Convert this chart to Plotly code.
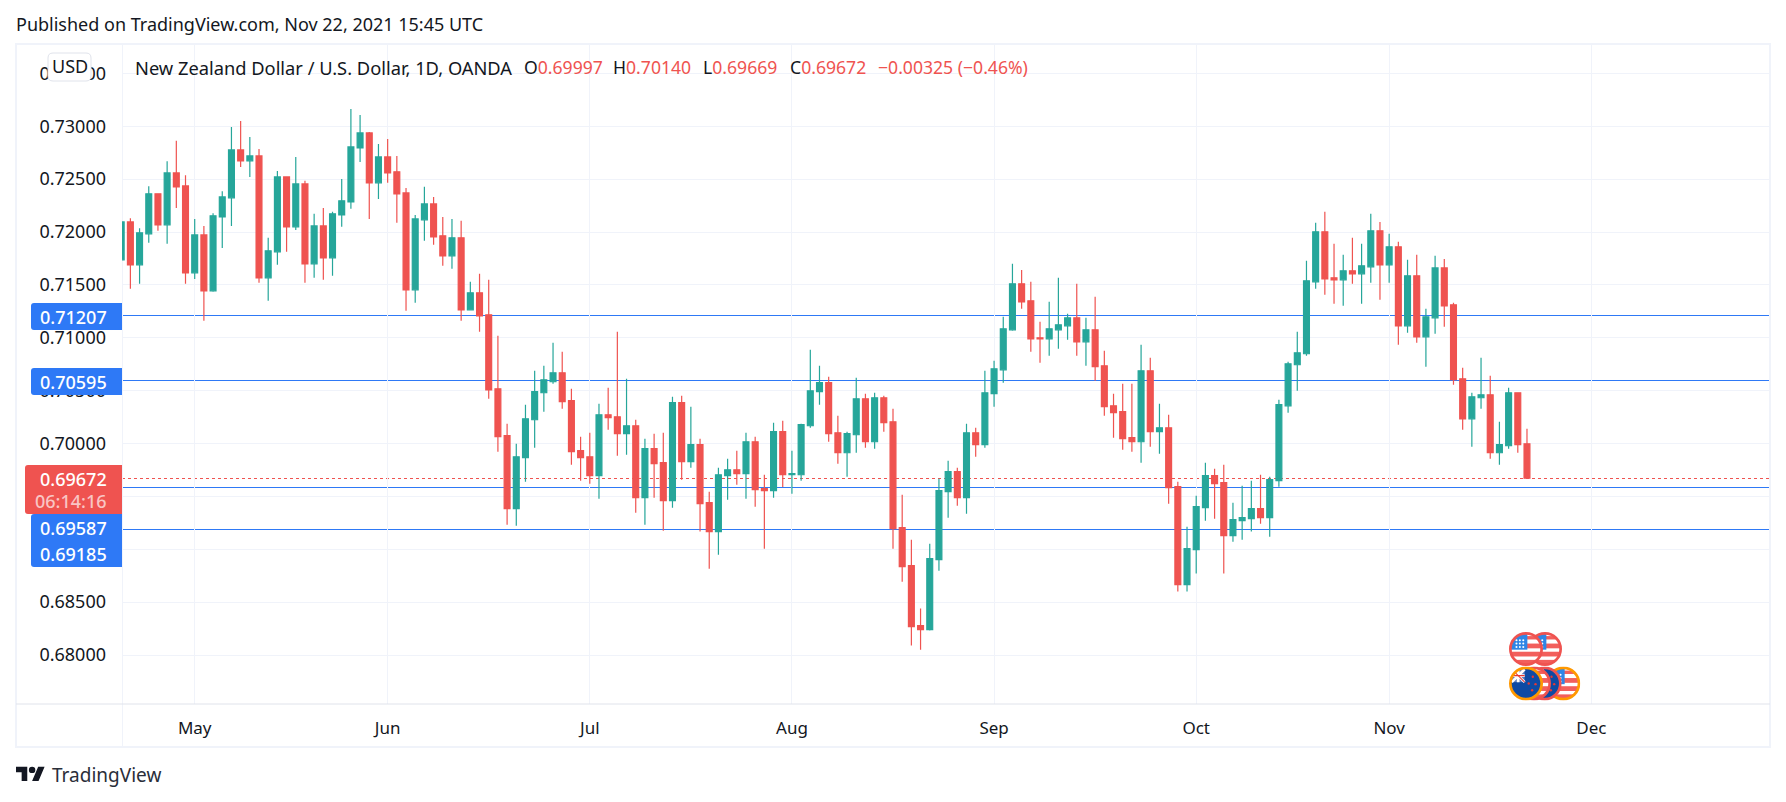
import base64
import pandas as pd
import plotly.graph_objects as go

# ---------- data ----------
first_day = "2021-04-21"
opens = [.71737,.72096,.71690,.71983,.72361,.72068,.72559,.72436,
.71614,.71973,.71444,.72143,.72323,.72776,.72673,.72720,.71567,.71813,
.72521,.72049,.72455,.71699,.72058,.71756,.72162,.72285,.72795,.72937,
.72465,.72710,.72569,.72370,.71453,.72115,.72266,.71964,.71775,.71945,
.71264,.71425,.71217,.70518,.70074,.69384,.69866,.70225,.70480,.70584,
.70669,.70405,.69932,.69875,.69696,.70272,.70253,.70093,.70168,.69488,
.69951,.69819,.69460,.70386,.69828,.69989,.69441,.69167,.69696,.69752,
.69715,.70017,.69573,.69554,.70112,.69705,.69705,.70168,.70490,.70575,
.70102,.69913,.70083,.70423,.70017,.70433,.70206,.69204,.68845,.68278,
.68240,.68902,.69545,.69734,.69488,.70102,.69989,.70471,.70697,.71075,
.71510,.71350,.71000,.70990,.71075,.71113,.71189,.70962,.71075,.70735,
.70357,.70301,.70055,.70017,.70688,.70112,.70149,.69592,.68666,.68996,
.69393,.69696,.69630,.69129,.69271,.69289,.69384,.69299,.69649,.70357,
.70745,.70849,.71529,.72002,.71567,.71548,.71633,.71605,.71671,.72011,
.71690,.71860,.71113,.71586,.71009,.71189,.71661,.71312,.70612,.70234,
.70433,.70461,.69913,.69979,.70480,.69997]
highs = [.72096,.72131,.72036,.72433,.72367,.72669,.72862,.72537,
.72124,.72058,.72178,.72386,.72994,.73051,.72899,.72786,.71945,.72578,
.72521,.72710,.72484,.72172,.72228,.72191,.72502,.73164,.73107,.72947,
.72833,.72880,.72720,.72417,.72162,.72427,.72332,.72143,.72124,.72106,
.71529,.71605,.71548,.71019,.70187,.69998,.70367,.70688,.70735,.70953,
.70868,.70518,.70064,.70102,.70376,.70527,.71057,.70612,.70225,.70045,
.70093,.70102,.70442,.70452,.70348,.70045,.69545,.69771,.69856,.69932,
.70102,.70064,.69705,.70197,.70216,.69932,.70187,.70887,.70735,.70631,
.70263,.70112,.70622,.70471,.70480,.70452,.70329,.69516,.69091,.68439,
.69053,.69667,.69838,.69771,.70187,.70149,.70688,.70783,.71198,.71699,
.71642,.71529,.71151,.71340,.71567,.71227,.71510,.71189,.71387,.70877,
.70471,.70565,.70565,.70934,.70811,.70376,.70272,.69639,.69214,.69507,
.69819,.69762,.69800,.69441,.69601,.69649,.69705,.69686,.70414,.70773,
.71057,.71728,.72087,.72191,.71888,.71784,.71945,.71888,.72172,.72096,
.71983,.71907,.71737,.71784,.71274,.71775,.71746,.71331,.70716,.70480,
.70811,.70641,.70206,.70527,.70480,.70140]
lows = [.71737,.71463,.71510,.71898,.72011,.71888,.72228,.71510,
.71557,.71161,.71435,.71850,.72058,.72616,.72521,.71520,.71350,.71690,
.71813,.72020,.71520,.71567,.71548,.71586,.72049,.72219,.72663,.72124,
.72313,.72465,.72087,.71255,.71331,.71917,.71879,.71680,.71652,.71161,
.71264,.71057,.70423,.69923,.69233,.69223,.69639,.69960,.70301,.70565,
.70329,.69800,.69649,.69620,.69478,.70130,.69885,.69894,.69346,.69233,
.69488,.69176,.69393,.69658,.69771,.69167,.68817,.68949,.69469,.69611,
.69478,.69403,.69006,.69488,.69589,.69526,.69649,.70149,.70367,.70017,
.69809,.69686,.69913,.69960,.69951,.70112,.69006,.68694,.68089,.68051,
.68231,.68798,.69299,.69412,.69337,.69875,.69960,.70348,.70575,.71066,
.71274,.70868,.70764,.70830,.70896,.70981,.70830,.70735,.70594,.70263,
.70055,.69941,.69923,.69819,.69970,.69904,.69431,.68600,.68600,.68770,
.69271,.69289,.68770,.69072,.69091,.69167,.69242,.69119,.69592,.70291,
.70499,.70830,.71463,.71406,.71321,.71302,.71510,.71321,.71520,.71359,
.71520,.70934,.71047,.70953,.70726,.71038,.71104,.70556,.70130,.69970,
.70329,.69856,.69800,.69951,.69913,.69669]
closes = [.72096,.71690,.71992,.72361,.72068,.72559,.72427,.71614,
.71973,.71444,.72153,.72332,.72776,.72673,.72720,.71567,.71822,.72521,
.72049,.72455,.71699,.72058,.71756,.72172,.72295,.72805,.72937,.72465,
.72710,.72559,.72361,.71453,.72124,.72266,.71954,.71775,.71945,.71264,
.71425,.71208,.70508,.70064,.69384,.69875,.70234,.70490,.70603,.70669,
.70395,.69923,.69866,.69696,.70272,.70244,.70093,.70168,.69488,.69951,
.69809,.69460,.70386,.69828,.69989,.69431,.69167,.69705,.69752,.69715,
.70017,.69563,.69554,.70112,.69705,.69715,.70178,.70499,.70575,.70093,
.69913,.70093,.70423,.70017,.70433,.70197,.69195,.68836,.68269,.68240,
.68911,.69554,.69734,.69488,.70102,.69989,.70480,.70707,.71085,.71510,
.71340,.70990,.70990,.71085,.71123,.71189,.70962,.71075,.70726,.70348,
.70291,.70045,.70017,.70688,.70112,.70149,.69582,.68666,.69006,.69403,
.69696,.69620,.69129,.69280,.69299,.69384,.69299,.69658,.70367,.70754,
.70858,.71539,.72002,.71557,.71548,.71633,.71605,.71680,.72011,.71690,
.71860,.71113,.71586,.71009,.71198,.71661,.71302,.70603,.70234,.70442,
.70461,.69913,.69989,.70480,.69989,.69672]

month_labels = ["May", "Jun", "Jul", "Aug", "Sep", "Oct", "Nov", "Dec"]
month_starts = ["2021-05-03", "2021-06-01", "2021-07-01", "2021-08-02",
                "2021-09-01", "2021-10-01", "2021-11-01", "2021-12-01"]
price_ticks = [0.68, 0.685, 0.69, 0.695, 0.70, 0.705, 0.71, 0.715, 0.72, 0.725, 0.73, 0.735]
price_tick_labels = ["0.68000", "0.68500", "", "", "0.70000", "0.70500", "0.71000", "0.71500",
                     "0.72000", "0.72500", "0.73000", "0.73500"]
level_lines = [0.71207, 0.70595, 0.69587, 0.69185]
last_price = 0.69672

GREEN, RED, BLUE = "#26a69a", "#ef5350", "#2e79f6"
INK = "#131722"
FONT = "Noto Sans"

# ---------- layout helpers (decorations only) ----------
W, H = 1786, 802
L, R, T, B = 122, 17, 44, 98
PW, PH = W - L - R, H - T - B
xp = lambda px: (px - L) / PW
yp = lambda py: 1 - (py - T) / PH


def rect_path(x0, y0, x1, y1, r=3, right=True):
    rr = r if right else 0
    return (f"M{xp(x0+r)},{yp(y0)} L{xp(x1-rr)},{yp(y0)} Q{xp(x1)},{yp(y0)} {xp(x1)},{yp(y0+rr)} "
            f"L{xp(x1)},{yp(y1-rr)} Q{xp(x1)},{yp(y1)} {xp(x1-rr)},{yp(y1)} L{xp(x0+r)},{yp(y1)} "
            f"Q{xp(x0)},{yp(y1)} {xp(x0)},{yp(y1-r)} L{xp(x0)},{yp(y0+r)} Q{xp(x0)},{yp(y0)} {xp(x0+r)},{yp(y0)} Z")


def box(x0, y0, x1, y1, fill, line=None, r=3, right=False):
    return dict(type="path", xref="paper", yref="paper", path=rect_path(x0, y0, x1, y1, r, right),
                fillcolor=fill, line=dict(color=line or fill, width=1 if line else 0), layer="above")


def label(text, x, y, size=18, color=INK, anchor="left", font=FONT, weight="normal"):
    return dict(text=text, xref="paper", yref="paper", x=xp(x), y=yp(y), xanchor=anchor, yanchor="middle",
                showarrow=False, font=dict(family=font, size=size, color=color, weight=weight),
                borderpad=0, borderwidth=0)


def svg_uri(svg):
    return "data:image/svg+xml;base64," + base64.b64encode(svg.encode()).decode()


def us_flag(ring):
    dots = "".join(f'<circle cx="{x}" cy="{y}" r="3" fill="#fff"/>' for y in (24, 34, 44) for x in (22, 32, 42))
    return svg_uri(f'''<svg xmlns="http://www.w3.org/2000/svg" viewBox="0 0 100 100">
<defs><clipPath id="c"><circle cx="50" cy="50" r="46"/></clipPath></defs>
<g clip-path="url(#c)"><rect width="100" height="100" fill="#fff"/>
<rect y="12" width="100" height="10" fill="#f25f5c"/><rect y="34" width="100" height="14" fill="#f25f5c"/>
<rect y="58" width="100" height="14" fill="#f25f5c"/><rect y="82" width="100" height="18" fill="#f25f5c"/>
<rect x="0" y="6" width="54" height="46" fill="#2f86e6"/>{dots}</g>
<circle cx="50" cy="50" r="46" fill="none" stroke="{ring}" stroke-width="8"/></svg>''')


def nz_flag(ring):
    stars = "".join(f'<circle cx="{x}" cy="{y}" r="3.5" fill="#e53935"/>' for x, y in ((70, 30), (58, 50), (78, 52), (68, 70)))
    return svg_uri(f'''<svg xmlns="http://www.w3.org/2000/svg" viewBox="0 0 100 100">
<defs><clipPath id="c"><circle cx="50" cy="50" r="46"/></clipPath></defs>
<g clip-path="url(#c)"><rect width="100" height="100" fill="#0f4aa3"/>
<rect x="0" y="0" width="46" height="46" fill="#5d7fc0"/>
<path d="M8 8L46 46M46 8L8 46" stroke="#fff" stroke-width="8"/><path d="M8 27H46M27 8V46" stroke="#fff" stroke-width="8"/>
<path d="M8 8L46 46" stroke="#e53935" stroke-width="3"/><path d="M8 27H46" stroke="#e53935" stroke-width="4"/>{stars}</g>
<circle cx="50" cy="50" r="46" fill="none" stroke="{ring}" stroke-width="8"/></svg>''')


TV_LOGO = svg_uri(f'''<svg xmlns="http://www.w3.org/2000/svg" viewBox="0 0 36 28" fill="{INK}">
<path d="M14 22H7V11H0V4h14v18zM28 22h-8l7.5-18h8L28 22z"/><circle cx="20" cy="8" r="4"/></svg>''')


def icon(src, cx, cy, d=34):
    return dict(source=src, xref="paper", yref="paper", x=xp(cx - d / 2), y=yp(cy - d / 2),
                sizex=d / PW, sizey=d / PH, xanchor="left", yanchor="top", sizing="stretch", layer="above")


# ---------- figure ----------
all_days = pd.bdate_range(first_day, "2022-01-31")
bar_x = list(range(len(opens)))
month_x = [all_days.get_loc(pd.Timestamp(d)) for d in month_starts]

fig = go.Figure(go.Candlestick(
    x=bar_x, open=opens, high=highs, low=lows, close=closes,
    increasing=dict(line=dict(color=GREEN, width=1.2), fillcolor=GREEN),
    decreasing=dict(line=dict(color=RED, width=1.2), fillcolor=RED),
    whiskerwidth=0, hoverinfo="skip", showlegend=False))

shapes = []
for v in level_lines:
    shapes.append(dict(type="line", xref="paper", x0=0, x1=1, yref="y", y0=v, y1=v,
                       line=dict(color=BLUE, width=1), layer="below"))
shapes.append(dict(type="line", xref="paper", x0=0, x1=1, yref="y", y0=last_price, y1=last_price,
                   line=dict(color=RED, width=1, dash="dot"), layer="below"))
# frame and separators
shapes += [
    dict(type="rect", xref="paper", yref="paper", x0=xp(16), x1=xp(1770), y0=yp(44), y1=yp(747),
         line=dict(color="#f0f3fa", width=2), layer="below"),
    dict(type="line", xref="paper", yref="paper", x0=xp(122), x1=xp(122), y0=yp(44), y1=yp(747),
         line=dict(color="#f0f3fa", width=1), layer="below"),
    dict(type="line", xref="paper", yref="paper", x0=xp(16), x1=xp(1770), y0=yp(704), y1=yp(704),
         line=dict(color="#e0e3eb", width=1), layer="above"),
]
# price labels on the scale
shapes += [
    box(31, 303, 122, 330, BLUE),
    box(31, 368, 122, 395, BLUE),
    box(31, 514, 122, 567, BLUE),
    box(25, 465, 122, 514, RED),
    box(48, 53, 91, 81, "#ffffff", "#e0e3eb", r=5, right=True),
]

VAL = 17.6
annotations = [
    label("Published on TradingView.com, Nov 22, 2021 15:45 UTC", 16, 24, 18),
    label("USD", 69.5, 66, 18, anchor="center"),
    label("New Zealand Dollar / U.S. Dollar, 1D, OANDA", 135, 67, 18.3),
    label(f'O<span style="color:{RED}">0.69997</span>', 524, 67, VAL),
    label(f'H<span style="color:{RED}">0.70140</span>', 613, 67, VAL),
    label(f'L<span style="color:{RED}">0.69669</span>', 703, 67, VAL),
    label(f'C<span style="color:{RED}">0.69672</span>', 790, 67, VAL),
    label("−0.00325 (−0.46%)", 878, 67, VAL, RED),
    label("0.71207", 107, 317, 18, "#ffffff", "right", weight=500),
    label("0.70595", 107, 382, 18, "#ffffff", "right", weight=500),
    label("0.69672", 107, 479, 18, "#ffffff", "right", weight=500),
    label("06:14:16", 107, 501, 18, "#f9c5c4", "right", weight=500),
    label("0.69587", 107, 528, 18, "#ffffff", "right", weight=500),
    label("0.69185", 107, 554, 18, "#ffffff", "right", weight=500),
    label("TradingView", 52, 775, 19, "#2a2e39"),
]

images = [
    icon(us_flag("#ff9800"), 1563.3, 683.5),
    icon(nz_flag(RED), 1544.7, 683.5),
    icon(us_flag(RED), 1534, 683.5),
    icon(nz_flag("#ff9800"), 1526, 683.5),
    icon(us_flag(RED), 1545, 649),
    icon(us_flag(RED), 1526, 649),
    dict(source=TV_LOGO, xref="paper", yref="paper", x=xp(16), y=yp(763.5), sizex=29 / PW, sizey=22.4 / PH,
         xanchor="left", yanchor="top", sizing="stretch", layer="above"),
]

fig.update_layout(
    width=W, height=H, autosize=False,
    margin=dict(l=L, r=R, t=T, b=B, pad=0),
    paper_bgcolor="#ffffff", plot_bgcolor="#ffffff",
    boxgap=0.36, boxgroupgap=0,
    shapes=shapes, annotations=annotations, images=images,
    font=dict(family=FONT, size=18, color=INK),
    xaxis=dict(range=[0.088, 179.34], rangeslider=dict(visible=False), tickmode="array",
               tickvals=month_x, ticktext=month_labels, showgrid=True, gridcolor="#f0f3fa", gridwidth=1,
               zeroline=False, showline=False, ticks="", ticklabelstandoff=12,
               tickfont=dict(family=FONT, size=17, color=INK)),
    yaxis=dict(range=[0.67537, 0.73778], side="left", tickmode="array", tickvals=price_ticks,
               ticktext=price_tick_labels, showgrid=True, gridcolor="#f0f3fa", gridwidth=1, zeroline=False,
               showline=False, ticks="", ticklabelstandoff=15,
               tickfont=dict(family=FONT, size=18, color=INK)),
)

POST = """document.body.style.margin='0';document.documentElement.style.overflow='hidden';
var s=document.createElement('style');
s.textContent='.layer-below .shapelayer path{shape-rendering:crispEdges !important}';
document.head.appendChild(s);"""
fig.write_html("out.html", config=dict(displayModeBar=False), post_script=POST)
